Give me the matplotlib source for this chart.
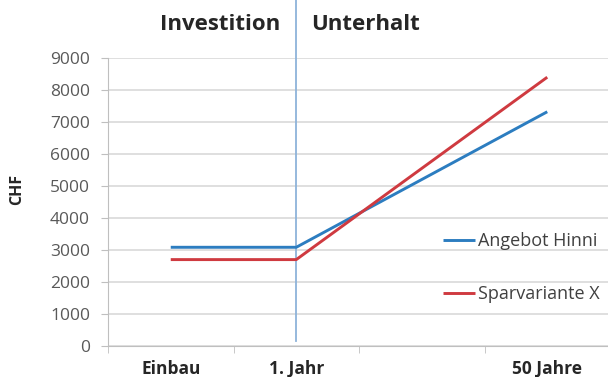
import matplotlib.pyplot as plt

plt.rcParams['font.family'] = ['Open Sans', 'DejaVu Sans']

# data
categories = ['Einbau', '1. Jahr', '', '50 Jahre']
angebot_hinni = [3085, 3085, None, 7320]
sparvariante_x = [2700, 2700, None, 8400]

x_pts = [0, 1, 3]
blue = [v for v in angebot_hinni if v is not None]
red = [v for v in sparvariante_x if v is not None]

fig = plt.figure(figsize=(6.08, 3.77), dpi=100)
ax = fig.add_axes([108 / 608, 1 - 346 / 377, 502 / 608, 288 / 377])

ax.plot(x_pts, blue, color='#2C7DC0', lw=2.1, label='Angebot Hinni', solid_capstyle='butt')
ax.plot(x_pts, red, color='#CF3A40', lw=2.1, label='Sparvariante X', solid_capstyle='butt')

# separator between Investition and Unterhalt
ax.axvline(1, ymin=0.017, ymax=1.21, color='#8DB3DA', lw=1.3, clip_on=False, zorder=1)

ax.set_xlim(-0.5, 3.5)
ax.set_ylim(0, 9000)
ax.set_yticks(range(0, 9001, 1000))
ax.set_xticks(range(len(categories)))
ax.set_xticklabels(categories, fontweight='bold', fontsize=12.5, color='#262626')
ax.set_xticks([-0.5, 0.5, 1.5, 2.5], minor=True)
ax.tick_params(axis='x', which='major', length=0, pad=10)
ax.tick_params(axis='x', which='minor', length=5, color='#BFBFBF', direction='out')
ax.tick_params(axis='y', length=5, color='#BFBFBF', pad=8, labelsize=12.5, labelcolor='#595959')

ax.grid(axis='y', color='#D9D9D9', lw=1.2)
ax.set_axisbelow(True)
for s in ['top', 'right']:
    ax.spines[s].set_visible(False)
ax.spines['left'].set_color('#BFBFBF')
ax.spines['bottom'].set_color('#BFBFBF')

fig.text(17 / 608, 1 - 189 / 377, 'CHF', rotation=90, ha='center', va='center',
         fontweight='bold', fontsize=11.5, color='#262626')
fig.text(220 / 608, 1 - 24 / 377, 'Investition', ha='center', va='center',
         fontweight='bold', fontsize=16, color='#262626')
fig.text(311 / 608, 1 - 25 / 377, 'Unterhalt', ha='left', va='center',
         fontweight='bold', fontsize=16, color='#262626')

ax.legend(loc='upper left', bbox_to_anchor=(443 / 608, 1 - 232 / 377),
          bbox_transform=fig.transFigure, frameon=False, borderpad=0,
          borderaxespad=0, handlelength=1.75, handletextpad=0.17,
          labelspacing=1.95, fontsize=13, labelcolor='#404040')

plt.savefig('out.png', dpi=100)
